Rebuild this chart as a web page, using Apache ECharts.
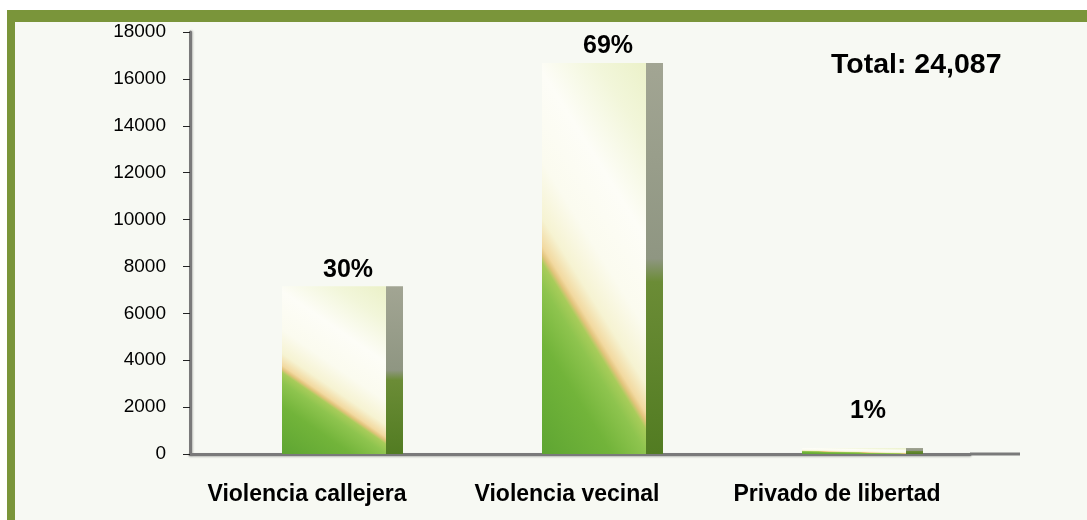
<!DOCTYPE html>
<html>
<head>
<meta charset="utf-8">
<script src="https://cdn.jsdelivr.net/npm/echarts@6/dist/echarts.min.js"></script>
<style>
html, body { margin: 0; padding: 0; background: #ffffff; }
#frame {
	position: absolute; left: 7px; top: 10px; width: 1072px; height: 498px;
	border-top: 12px solid #7A953A; border-left: 8px solid #7A953A;
	background: #F7F9F3;
}
#main { position: absolute; left: 0; top: 0; width: 1087px; height: 520px; }
</style>
</head>
<body>
<div id="frame"></div>
<div id="main"></div>
<script>
var categories = ['Violencia callejera', 'Violencia vecinal', 'Privado de libertad'];
var values = [7150, 16680, 257];
var percentLabels = ['30%', '69%', '1%'];
var totalLabel = 'Total: 24,087';
var yMin = 0, yMax = 18000, yStep = 2000;

var myChart = echarts.init(document.getElementById('main'));

// relleno "ondulado": degradado diagonal verde -> crema
var waveStops = [
	{offset: 0, color: '#5EA532'},
	{offset: 0.2, color: '#72B43A'},
	{offset: 0.30, color: '#8EC44E'},
	{offset: 0.34, color: '#A8CC5A'},
	{offset: 0.355, color: '#E2C47C'},
	{offset: 0.37, color: '#F2D9A0'},
	{offset: 0.42, color: '#F6F3D2'},
	{offset: 0.52, color: '#FBFBEF'},
	{offset: 0.68, color: '#FDFDF7'},
	{offset: 0.85, color: '#F2F6DA'},
	{offset: 1, color: '#EBF1C8'}
];
function waveColor(p) {
	var h = Math.max(p.value * 422 / yMax, 1);
	var gx = 0.42 * h, gy = 103;
	var len = Math.sqrt(gx * gx + gy * gy);
	var ux = gx / len, uy = gy / len;
	var proj = 103 * ux + h * uy;
	return new echarts.graphic.LinearGradient(0, 1, ux * proj / 103, 1 - uy * proj / h, waveStops);
}
var sideColor = new echarts.graphic.LinearGradient(0, 0, 0, 1, [
	{offset: 0, color: '#A2A593'},
	{offset: 0.5, color: '#8F9682'},
	{offset: 0.56, color: '#6B8C36'},
	{offset: 1, color: '#527C22'}
]);

var mainData = values.map(function (v, i) {
	return {
		value: v,
		label: {offset: [14, i === 2 ? -20 : 0]}
	};
});
// las etiquetas del eje van algo corridas a la izquierda
var catData = categories.map(function (c, i) {
	return {value: c, textStyle: {padding: [0, i === 2 ? 6 : 26, 0, 0]}};
});

var option = {
	animation: false,
	textStyle: {fontFamily: 'Liberation Sans, Arial, sans-serif'},
	title: {
		text: totalLabel,
		left: 826, top: 46,
		textStyle: {fontSize: 28.5, fontWeight: 'bold', color: '#000'}
	},
	grid: {left: 190, top: 32, width: 780, bottom: 66},
	xAxis: {
		type: 'category',
		data: catData,
		axisLine: {lineStyle: {color: '#7A7A7A', width: 3, shadowColor: 'rgba(0,0,0,0.25)', shadowBlur: 2, shadowOffsetY: 1}},
		axisTick: {length: 8, lineStyle: {color: '#222', width: 1}},
		axisLabel: {interval: 0, hideOverlap: false, margin: 29, fontSize: 23, fontWeight: 'bold', color: '#000'}
	},
	yAxis: {
		type: 'value',
		min: yMin, max: yMax, interval: yStep,
		axisLine: {show: true, lineStyle: {color: '#7A7A7A', width: 3, shadowColor: 'rgba(0,0,0,0.25)', shadowBlur: 2, shadowOffsetX: 1}},
		axisTick: {show: true, length: 7, lineStyle: {color: '#222', width: 1}},
		axisLabel: {margin: 24, fontSize: 19, color: '#000', formatter: function (v) { return String(v); }},
		splitLine: {show: false}
	},
	graphic: [{
		type: 'line', z: 1,
		shape: {x1: 970, y1: 454, x2: 1020, y2: 454},
		style: {stroke: '#7A7A7A', lineWidth: 3}
	}],
	series: [
		{
			type: 'bar', name: 'espacio', data: values, barWidth: 45, barGap: '0%',
			silent: true, itemStyle: {color: 'rgba(0,0,0,0)'}
		},
		{
			type: 'bar', name: 'frente', data: mainData, barWidth: 104, barGap: '0%',
			itemStyle: {color: waveColor},
			label: {
				show: true, position: 'top', distance: 4,
				fontSize: 25, fontWeight: 'bold', color: '#000',
				formatter: function (p) { return percentLabels[p.dataIndex]; }
			}
		},
		{
			type: 'bar', name: 'lado', data: values, barWidth: 17, barGap: '0%',
			itemStyle: {color: sideColor}
		}
	]
};
myChart.setOption(option);
</script>
</body>
</html>
